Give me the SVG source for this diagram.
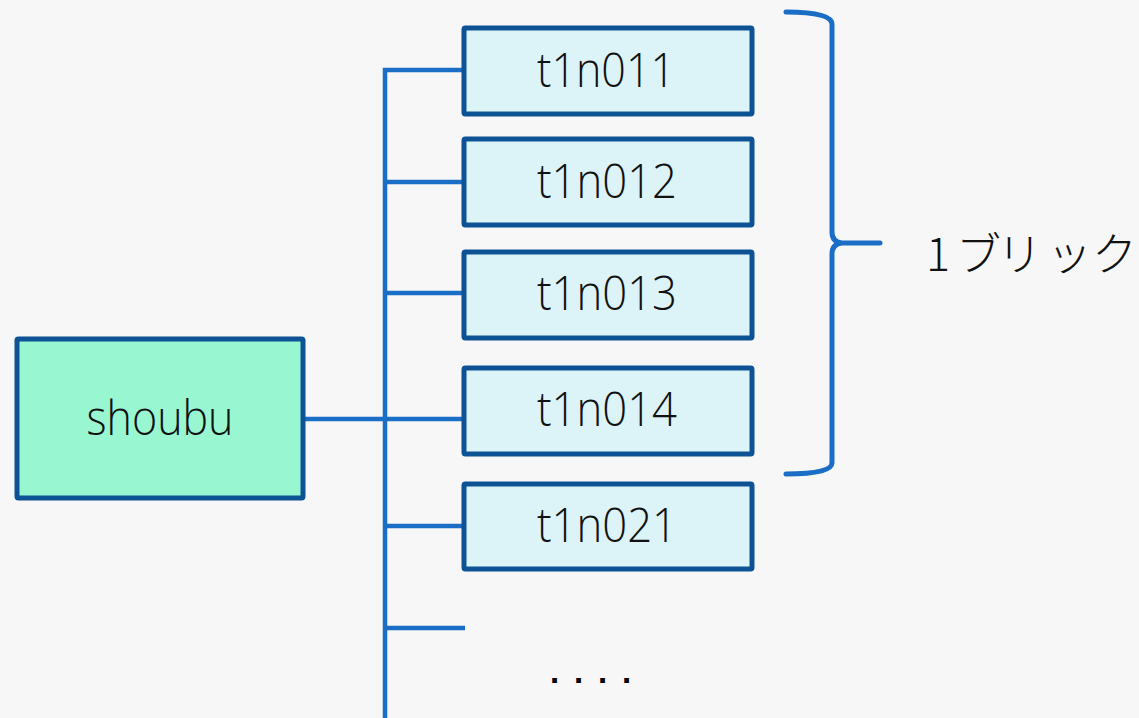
<svg xmlns="http://www.w3.org/2000/svg" width="1139" height="718" viewBox="0 0 1139 718">
  <style>
    .bg { fill: #f7f7f7; }
    .link { fill: none; stroke: #1a6ec6; stroke-width: 4.5; }
    .brace { fill: none; stroke: #1a6ec6; stroke-width: 5; stroke-linecap: round; }
    .host rect { fill: #dcf4f8; stroke: #0d5294; stroke-width: 5; }
    .root rect { fill: #98f7d1; stroke: #0d5294; stroke-width: 5; }
    .label { font-family: "Open Sans", Lato, "Noto Sans", sans-serif; font-weight: 300; font-size: 48px; fill: #111; text-anchor: middle; }
    .note { font-family: "Noto Sans CJK JP", "Noto Sans", sans-serif; font-weight: 300; font-size: 45px; fill: #111; }
    .dots { font-family: "Liberation Sans", sans-serif; font-weight: bold; font-size: 33px; fill: #000; }
  </style>
  <rect class="bg" x="0" y="0" width="1139" height="718"/>

  <!-- tree wiring -->
  <g id="connectors">
    <path class="link" d="M385,718 L385,70 L464,70"/>
    <path class="link" d="M385,182 L464,182"/>
    <path class="link" d="M385,293 L464,293"/>
    <path class="link" d="M305,419 L464,419"/>
    <path class="link" d="M385,526 L464,526"/>
    <path class="link" d="M385,628 L465,628"/>
  </g>

  <g id="shoubu" class="root">
    <rect x="17" y="339" width="286" height="159" rx="1.5"/>
    <text class="label" x="160" y="435" textLength="147" lengthAdjust="spacingAndGlyphs">shoubu</text>
  </g>

  <g id="t1n011" class="host">
    <rect x="464" y="28" width="288" height="86" rx="1.5"/>
    <text class="label" x="606" y="87" textLength="138" lengthAdjust="spacingAndGlyphs">t1n011</text>
  </g>
  <g id="t1n012" class="host">
    <rect x="464" y="139" width="288" height="86" rx="1.5"/>
    <text class="label" x="607" y="198" textLength="140" lengthAdjust="spacingAndGlyphs">t1n012</text>
  </g>
  <g id="t1n013" class="host">
    <rect x="464" y="252" width="288" height="86" rx="1.5"/>
    <text class="label" x="607" y="310" textLength="140" lengthAdjust="spacingAndGlyphs">t1n013</text>
  </g>
  <g id="t1n014" class="host">
    <rect x="464" y="368" width="288" height="86" rx="1.5"/>
    <text class="label" x="607" y="426" textLength="140" lengthAdjust="spacingAndGlyphs">t1n014</text>
  </g>
  <g id="t1n021" class="host">
    <rect x="464" y="484" width="288" height="85" rx="1.5"/>
    <text class="label" x="607" y="542" textLength="140" lengthAdjust="spacingAndGlyphs">t1n021</text>
  </g>

  <g id="more">
    <text class="dots" x="550 574 598 622" y="683">....</text>
  </g>

  <!-- bracket grouping the first four hosts -->
  <g id="brick">
    <path class="brace" d="M786,12 Q832,12 832,24 L832,232 Q832,242 842,243 L880,243 M842,243 Q832,244 832,254 L832,463 Q832,474 786,474"/>
    <text class="note" x="926 956 997 1047 1092" y="271">1ブリック</text>
  </g>
</svg>
